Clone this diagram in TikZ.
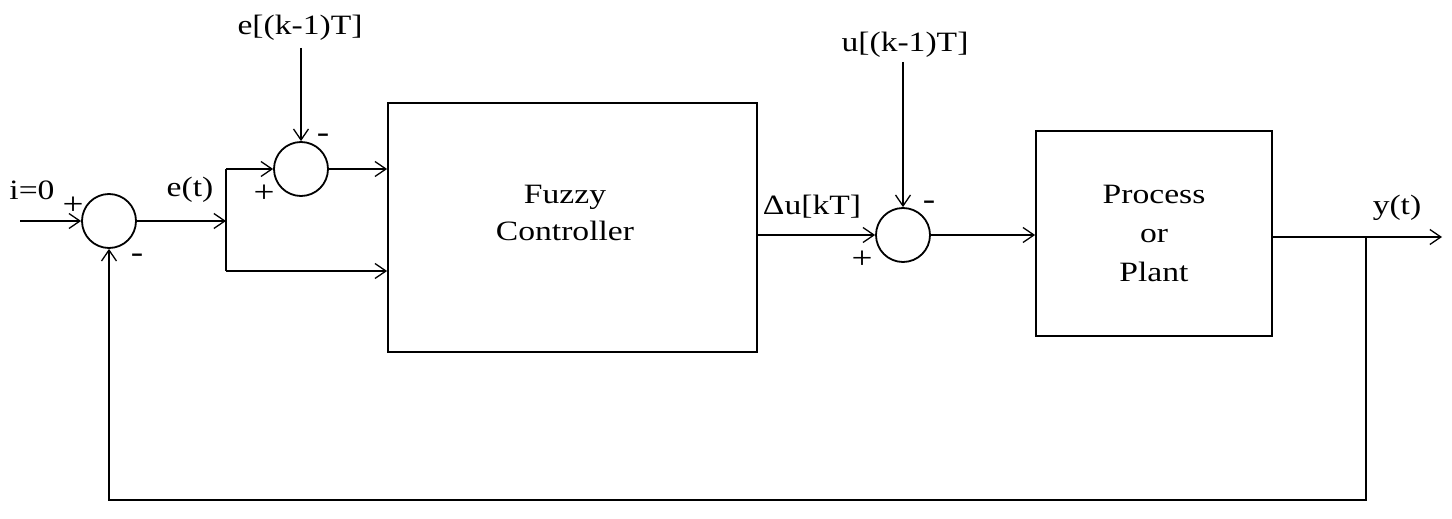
\documentclass[tikz,border=0pt]{standalone}
\usepackage{fontspec}
\setmainfont{Liberation Serif}[FakeStretch=1.2]
\usetikzlibrary{arrows.meta,calc}
\begin{document}
\begin{tikzpicture}[x=1pt,y=-1pt,
  line width=1.8pt,
  sig/.style={-{Straight Barb[length=11pt,width=15pt,line width=1.3pt]}},
  sumj/.style={circle,draw,minimum size=54pt,inner sep=0pt},
  blk/.style={draw,inner sep=0pt,align=center,font=\fontsize{28}{39}\selectfont},
  lbl/.style={font=\fontsize{28}{32}\selectfont,inner sep=0pt},
  sgn/.style={font=\fontsize{31}{31}\selectfont,inner sep=0pt}]
\useasboundingbox (0,0) rectangle (1452,519);
% junctions
\node[sumj] (s1) at (109,221) {};
\node[sumj] (s2) at (301,169) {};
\node[sumj] (s3) at (903,235) {};
% blocks
\node[blk,minimum width=369pt,minimum height=249pt] (fz) at (572.5,227.5) {};
\node[lbl,align=center,font=\fontsize{28}{37}\selectfont] (fzt) at (565,213) {Fuzzy\\Controller};
\node[blk,minimum width=236pt,minimum height=205pt] (pl) at (1154,233.5) {Process\\or\\Plant};
% labels
\node[lbl] (li) at (32,190) {i=0};
\node[lbl] (le) at (190,190) {e(t)};
\node[lbl] (lek) at (300,28) {e[(k-1)T]};
\node[lbl] (lu) at (812,207) {Δu[kT]};
\node[lbl] (luk) at (905,45) {u[(k-1)T]};
\node[lbl] (ly) at (1397,208) {y(t)};
% signs
\node[sgn] (p1) at (73,206) {+};
\node[sgn] (m1) at (137,258) {-};
\node[sgn] (p2) at (264,194) {+};
\node[sgn] (m2) at (323,138) {-};
\node[sgn] (m3) at (929,205) {-};
\node[sgn] (p3) at (862,260) {+};
% coordinates
\coordinate (in) at (20,221);
\coordinate (j) at (226,221);
\coordinate (jt) at (226,169);
\coordinate (jb) at (226,271);
\coordinate (ekt) at (301,48);
\coordinate (ukt) at (903,62);
\coordinate (yo) at (1442,237);
\coordinate (fb) at (1366,237);
\coordinate (fbb) at (1366,500);
% connectors
\draw[sig] (in) -- (s1.west);
\draw[sig] (s1.east) -- (j);
\draw (jt) -- (jb);
\draw[sig] (jt) -- (s2.west);
\draw[sig] (s2.east) -- (fz.west |- s2);
\draw[sig] (jb) -- (fz.west |- jb);
\draw[sig] (ekt) -- (s2.north);
\draw[sig] (fz.east |- s3) -- (s3.west);
\draw[sig] (ukt) -- (s3.north);
\draw[sig] (s3.east) -- (pl.west |- s3);
\draw[sig] (pl.east |- yo) -- (yo);
\draw[sig] (fb) -- (fbb) -- (s1 |- fbb) -- (s1.south);
\end{tikzpicture}
\end{document}
